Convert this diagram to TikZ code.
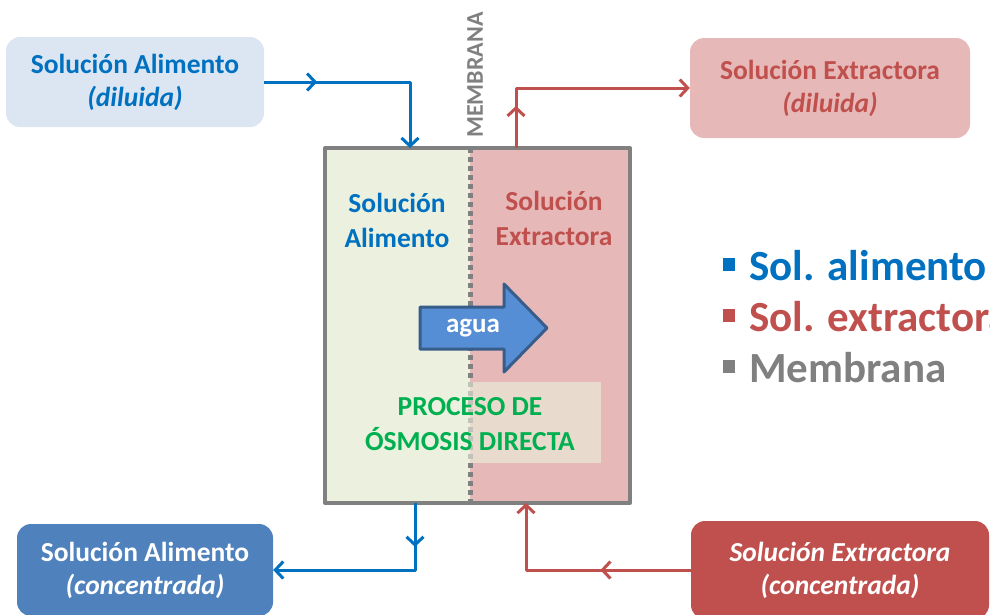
\documentclass[tikz,border=0pt]{standalone}
\usepackage{fontspec}
\setmainfont{Carlito}
\usetikzlibrary{arrows.meta,decorations.markings}
\definecolor{azul}{HTML}{0070C0}
\definecolor{rojo}{HTML}{C0504D}
\definecolor{gris}{HTML}{808080}
\definecolor{verde}{HTML}{00B050}
\definecolor{azulclaro}{HTML}{DCE6F2}
\definecolor{rosa}{HTML}{E6B9B8}
\definecolor{verdeclaro}{HTML}{EBF1DE}
\definecolor{azulmedio}{HTML}{4F81BD}
\definecolor{azulagua}{HTML}{558ED5}
\definecolor{azuloscuro}{HTML}{385D8A}
\begin{document}
\begin{tikzpicture}[x=1pt,y=-1pt,join=round, % Celda de osmosis directa
    caja/.style={rounded corners=14pt,align=center,inner sep=0pt,font=\fontsize{27.5}{33}\selectfont\bfseries},
    texto/.style={align=center,font=\fontsize{27.5}{35}\selectfont\bfseries},
    flujoA/.style={draw=azul,line width=3pt,-{Straight Barb[length=8pt,width=17pt]}},
    flujoE/.style={draw=rojo,line width=3pt,-{Straight Barb[length=8pt,width=17pt]}},
    punta/.style={postaction={decorate},decoration={markings,mark=at position #1 with {\arrow{Straight Barb[length=8pt,width=17pt]}}}},
    leyenda/.style={anchor=base west,inner sep=0pt,font=\fontsize{43}{48}\selectfont\bfseries}]
       \useasboundingbox (0,0) rectangle (990,614);
       \clip (0,0) rectangle (990,614);
       % cajas de entrada y salida
       \node[caja,fill=azulclaro,text=azul,minimum width=258pt,minimum height=90pt] (fa) at (135,82) {Solución Alimento\\\textit{(diluida)}};
       \node[caja,fill=rosa,text=rojo,minimum width=280pt,minimum height=100pt] (ed) at (830,88) {Solución Extractora\\\textit{(diluida)}};
       \node[caja,fill=azulmedio,text=white,minimum width=256pt,minimum height=92pt] (fc) at (145,570) {Solución Alimento\\\textit{(concentrada)}};
       \node[caja,fill=rojo,text=white,font=\fontsize{27.5}{33}\selectfont\bfseries\itshape,minimum width=298pt,minimum height=98pt] (ec) at (840,570) {Solución Extractora\\(concentrada)};
       % celda
       \node[minimum width=305pt,minimum height=355pt,inner sep=0pt,outer sep=0pt] (celda) at (477.5,325.5) {};
       \fill[verdeclaro] (celda.north west) rectangle ([xshift=-7.5pt]celda.south);
       \fill[rosa] ([xshift=-7.5pt]celda.north) rectangle (celda.south east);
       \draw[gris,line width=5pt,dash pattern=on 5pt off 4pt] ([xshift=-7.5pt]celda.north) -- ([xshift=-7.5pt]celda.south);
       \fill[verdeclaro,opacity=0.6] (340,382) rectangle (601,463);
       \draw[gris,line width=4pt] (celda.north west) rectangle (celda.south east);
       \node[rotate=90,text=gris,font=\fontsize{24}{24}\selectfont\bfseries] (memb) at (475,75) {MEMBRANA};
       \node[texto,text=azul] (sa) at (397,220) {Solución\\Alimento};
       \node[texto,text=rojo] (se) at (554,218) {Solución\\Extractora};
       \node[texto,text=verde] (proc) at (470,424) {PROCESO DE\\ÓSMOSIS DIRECTA};
       % flecha de agua
       \filldraw[fill=azulagua,draw=azuloscuro,line width=3pt] (420,307) -- (504,307) -- (504,284) -- (547,328) -- (504,372) -- (504,349) -- (420,349) -- cycle;
       \node[text=white,font=\fontsize{27}{27}\selectfont\bfseries] (agua) at (473,328) {agua};
       % flujos
       \draw[flujoA,punta=0.25] (fa.east) -| ([xshift=-67.5pt]celda.north);
       \draw[flujoE,punta=0.18] ([xshift=38.5pt]celda.north) |- (ed.west);
       \draw[flujoA,punta=0.21] ([xshift=-62.5pt]celda.south) |- (fc.east);
       \draw[flujoE,punta=0.39] (ec.west) -| ([xshift=48.5pt]celda.south);
       % leyenda
       \foreach \t/\c [count=\i] in {Sol. alimento/azul,Sol. extractora/rojo,Membrana/gris}{
              \fill[\c] (723,{258+51*(\i-1)}) rectangle ++(12,13);
              \node[leyenda,text=\c] (ley\i) at (749,{280+51*(\i-1)}) {\t};
       }
\end{tikzpicture}
\end{document}
